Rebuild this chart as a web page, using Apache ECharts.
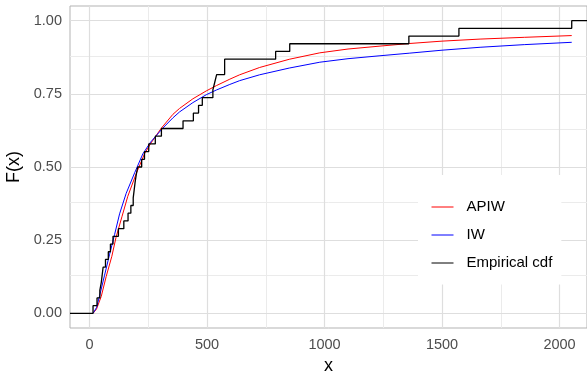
<!DOCTYPE html>
<html>
<head>
<meta charset="utf-8">
<script src="https://cdn.jsdelivr.net/npm/echarts@6/dist/echarts.min.js"></script>
<style>
  html, body { margin: 0; padding: 0; background: #fff; }
  #chart { width: 587px; height: 376px; }
</style>
</head>
<body>
<div id="chart"></div>
<script>
const sampleX = [15, 32, 44, 50, 54, 58, 68, 80, 89, 100, 123, 146, 164, 176, 186, 190, 194, 199,
  205, 222, 234, 252, 280, 306, 398, 442, 464, 480, 525, 533, 541, 575, 575, 792, 852, 1359, 1572, 2052];

// fitted APIW curve
const apiwX = [15, 30, 50, 71, 95, 113, 138, 163, 199, 234, 260, 305, 355, 383, 440, 497, 540, 597, 639, 724,
  850, 980, 1100, 1236, 1363, 1500, 1662, 1850, 2052];
const apiwF = [0, 0.015, 0.058, 0.126, 0.195, 0.26, 0.33, 0.40, 0.478, 0.545, 0.58, 0.632, 0.68, 0.70, 0.733,
  0.76, 0.778, 0.80, 0.815, 0.84, 0.868, 0.89, 0.903, 0.913, 0.922, 0.93, 0.937, 0.943, 0.949];

// fitted IW curve
const iwX = [15, 30, 43, 64, 85, 107, 128, 156, 192, 227, 260, 311, 355, 383, 440, 497, 540, 597, 639, 724,
  850, 980, 1100, 1236, 1363, 1500, 1662, 1850, 2052];
const iwF = [0, 0.02, 0.06, 0.13, 0.2, 0.27, 0.34, 0.41, 0.48, 0.545, 0.585, 0.632, 0.668, 0.688, 0.72,
  0.747, 0.763, 0.782, 0.795, 0.815, 0.838, 0.858, 0.87, 0.88, 0.889, 0.899, 0.909, 0.918, 0.926];

const xTicks = [0, 500, 1000, 1500, 2000];
const xMinor = [250, 750, 1250, 1750];
const yTicks = [0, 0.25, 0.5, 0.75, 1];
const yMinor = [0.125, 0.375, 0.625, 0.875];

const X_MIN = -83, X_MAX = 2117;
const Y_MIN = -0.05, Y_MAX = 1.05;

const n = sampleX.length;
const ecdf = [[X_MIN, 0]].concat(sampleX.map((v, i) => [v, (i + 1) / n]), [[X_MAX, 1]]);

const font = 'Liberation Sans, Arial, sans-serif';
const gridLine = (color, width) => ({ color, width, type: 'solid' });

const chart = echarts.init(document.getElementById('chart'));
const option = {
  animation: false,
  backgroundColor: '#fff',
  textStyle: { fontFamily: font },
  grid: {
    left: 70, top: 6, right: 0, bottom: 48,
    outerBoundsMode: 'none', containLabel: false,
    show: true, borderColor: '#b3b3b3', borderWidth: 1, backgroundColor: 'transparent'
  },
  legend: {
    orient: 'vertical',
    left: 418, top: 175,
    padding: [24.5, 9, 14, 13],
    backgroundColor: '#fff',
    itemWidth: 22, itemHeight: 14,
    itemGap: 13,
    itemStyle: { opacity: 0 },
    lineStyle: { width: 1 },
    data: ['APIW', 'IW', 'Empirical cdf'],
    formatter: name => '{t|' + name + '}',
    textStyle: {
      rich: { t: { fontSize: 15, fontFamily: font, color: '#000', lineHeight: 16, padding: [0, 0, 0, 8] } }
    }
  },
  xAxis: {
    type: 'value', min: X_MIN, max: X_MAX,
    name: 'x', nameLocation: 'middle', nameGap: 29,
    nameTextStyle: { fontSize: 18, color: '#000', fontFamily: font },
    axisLine: { show: false },
    axisTick: { show: true, length: 4, customValues: xTicks, lineStyle: { color: '#b3b3b3' } },
    axisLabel: {
      customValues: xTicks, margin: 9, fontSize: 14.5, color: '#4d4d4d', fontFamily: font,
      formatter: v => String(v)
    },
    splitLine: { show: false }
  },
  yAxis: {
    type: 'value', min: Y_MIN, max: Y_MAX,
    name: 'F(x)', nameLocation: 'middle', nameGap: 44, nameRotate: 90,
    nameTextStyle: { fontSize: 18, color: '#000', fontFamily: font },
    axisLine: { show: false },
    axisTick: { show: true, length: 4, customValues: yTicks, lineStyle: { color: '#b3b3b3' } },
    axisLabel: {
      customValues: yTicks, margin: 8, fontSize: 14.5, color: '#4d4d4d', fontFamily: font,
      formatter: v => v.toFixed(2)
    },
    splitLine: { show: false }
  },
  series: [
    {
      // panel grid drawn through the axes
      type: 'line', data: [], silent: true, z: 1,
      markLine: {
        z: 1, silent: true, symbol: ['none', 'none'], label: { show: false }, animation: false,
        data: [].concat(
          xMinor.map(v => ({ xAxis: v, lineStyle: gridLine('#ebebeb', 1) })),
          yMinor.map(v => ({ yAxis: v, lineStyle: gridLine('#ebebeb', 1) })),
          xTicks.map(v => ({ xAxis: v, lineStyle: gridLine('#dedede', 1.2) })),
          yTicks.map(v => ({ yAxis: v, lineStyle: gridLine('#dedede', 1.2) }))
        )
      }
    },
    {
      name: 'APIW', type: 'line', color: '#ff0000', showSymbol: false, symbol: 'none', z: 3,
      lineStyle: { width: 1, color: '#ff0000' },
      data: apiwX.map((v, i) => [v, apiwF[i]])
    },
    {
      name: 'IW', type: 'line', color: '#0000ff', showSymbol: false, symbol: 'none', z: 3,
      lineStyle: { width: 1, color: '#0000ff' },
      data: iwX.map((v, i) => [v, iwF[i]])
    },
    {
      name: 'Empirical cdf', type: 'line', color: '#000000', showSymbol: false, symbol: 'none', z: 4,
      step: 'end',
      lineStyle: { width: 1.3, color: '#000000' },
      data: ecdf
    }
  ]
};
chart.setOption(option);
</script>
</body>
</html>
